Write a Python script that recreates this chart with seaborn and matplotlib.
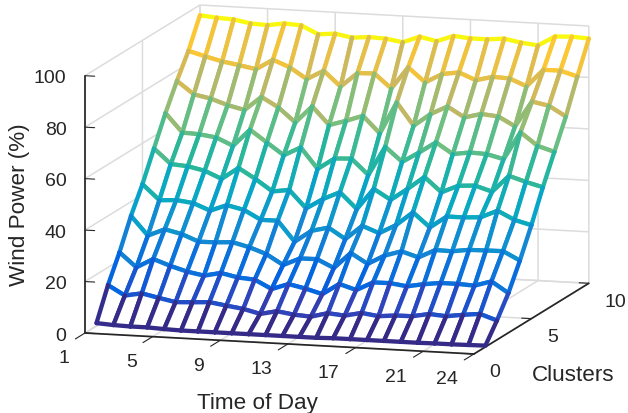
import numpy as np
import matplotlib
matplotlib.use("Agg")
import matplotlib.pyplot as plt
import seaborn as sns
from matplotlib.colors import LinearSegmentedColormap, Normalize
from matplotlib.transforms import Affine2D
from mpl_toolkits.mplot3d import proj3d
from mpl_toolkits.mplot3d.art3d import Line3DCollection, Poly3DCollection

# ---------- data ----------
hours = list(range(1, 25))
clusters = list(range(1, 11))
x_ticks = [1, 5, 9, 13, 17, 21, 24]
y_ticks = [0, 5, 10]
z_ticks = [0, 20, 40, 60, 80, 100]

cluster_1 = [1.1, .7, .5, .5, .2, 0, 0, 0, 0, 0, 0, 0, 0, 0, .2, .2, .2, .2, .2, .2, .3, .3, .4, .5]
cluster_2 = [13.1, 9.4, 10.6, 9.2, 7.9, 8.2, 8.6, 7.6, 6.7, 5.1, 6.5, 5.5, 5.1, 6.8, 6.2, 7.6, 6.7, 7.3, 7.4, 8.6, 8.1, 9.0, 9.7, 7.5]
cluster_3 = [23.1, 17.6, 21.2, 18.9, 17.0, 15.8, 17.2, 15.8, 15.3, 12.0, 14.3, 12.9, 11.1, 15.4, 13.4, 16.7, 16.8, 15.9, 17.1, 17.9, 17.9, 17.6, 19.6, 15.4]
cluster_4 = [34.5, 27.2, 30.0, 28.5, 25.9, 26.0, 26.4, 24.8, 22.5, 18.6, 21.5, 21.6, 18.5, 24.7, 20.8, 24.4, 26.4, 24.4, 27.6, 27.5, 28.4, 28.5, 28.6, 25.3]
cluster_5 = [44.1, 38.2, 38.6, 37.8, 35.2, 37.7, 36.2, 32.7, 32.7, 24.9, 29.5, 31.1, 27.0, 32.5, 30.0, 33.5, 38.8, 33.3, 37.9, 37.9, 38.3, 41.2, 38.0, 36.3]
cluster_6 = [55.2, 49.5, 49.0, 47.6, 44.8, 49.4, 45.5, 41.0, 41.9, 35.1, 39.1, 42.1, 35.9, 44.1, 40.2, 44.8, 49.8, 44.2, 47.1, 47.5, 45.5, 52.0, 50.0, 48.3]
cluster_7 = [66.2, 59.0, 58.7, 57.8, 54.9, 61.5, 56.9, 52.3, 55.7, 47.7, 52.1, 52.4, 46.4, 57.7, 52.2, 56.2, 60.5, 56.3, 57.3, 57.0, 55.4, 66.2, 61.3, 59.3]
cluster_8 = [76.0, 71.1, 69.8, 67.6, 66.1, 71.5, 67.8, 62.3, 68.9, 62.0, 64.0, 66.3, 59.8, 72.2, 63.5, 68.4, 71.7, 67.8, 69.5, 68.9, 65.4, 75.4, 74.1, 70.3]
cluster_9 = [84.9, 83.1, 81.5, 80.4, 79.2, 83.2, 80.6, 76.4, 80.0, 74.2, 79.8, 80.0, 74.5, 83.1, 77.6, 81.2, 82.2, 79.5, 81.2, 80.9, 78.2, 85.0, 85.0, 83.1]
cluster_10 = [96.0, 95.4, 95.1, 93.9, 93.6, 94.6, 94.2, 91.1, 91.7, 90.5, 91.1, 90.8, 89.8, 92.3, 90.9, 93.3, 92.7, 92.7, 93.3, 92.1, 91.4, 95.2, 95.5, 95.1]

wind = np.array([cluster_1, cluster_2, cluster_3, cluster_4, cluster_5,
                 cluster_6, cluster_7, cluster_8, cluster_9, cluster_10])

# ---------- style ----------
INK = "#262626"
sns.set_theme(style="white", rc={"font.family": ["Liberation Sans", "DejaVu Sans"],
                                 "text.color": INK, "axes.labelcolor": INK,
                                 "xtick.color": INK, "ytick.color": INK})
parula = LinearSegmentedColormap.from_list("parula", [
    (0 / 63, (.2081, .1663, .5292)), (4 / 63, (.1959, .2645, .7279)),
    (8 / 63, (.0117, .3875, .8820)), (16 / 63, (.0793, .5200, .8312)),
    (24 / 63, (.0239, .6536, .7793)), (32 / 63, (.1540, .7142, .6101)),
    (40 / 63, (.4420, .7481, .5033)), (48 / 63, (.7802, .7154, .3864)),
    (56 / 63, (.9892, .7800, .2000)), (58.5 / 63, (.9700, .9500, .0700)),
    (63 / 63, (.9763, .9831, .0538))])
norm = Normalize(wind.min(), wind.max())

FS_TICK = 14.0
FS_LABEL = 16.2
W, H = 628, 414
fig = plt.figure(figsize=(W / 100, H / 100), dpi=100)
ax = fig.add_subplot(projection="3d", computed_zorder=False)
ax.set_proj_type("ortho")
ax.view_init(elev=10.5, azim=-73.5)
ax.set_box_aspect((403, 402, 260))

# ---------- mesh, drawn cell by cell from back to front (hidden lines) ----------
X, Y = np.meshgrid(hours, clusters)
order = 10
LW = 3.1
for i in range(len(clusters) - 2, -1, -1):
    for j in range(len(hours) - 1):
        P = lambda a, b: (X[a, b], Y[a, b], wind[a, b])
        quad = [P(i, j), P(i, j + 1), P(i + 1, j + 1), P(i + 1, j)]
        ax.add_collection3d(Poly3DCollection([quad], facecolors="white", edgecolors="none",
                                             zorder=order), autolim=False)
        segs = [[P(i, j), P(i, j + 1)], [P(i + 1, j), P(i + 1, j + 1)],
                [P(i, j), P(i + 1, j)], [P(i, j + 1), P(i + 1, j + 1)]]
        vals = [wind[i, j], wind[i + 1, j], wind[i, j], wind[i, j + 1]]
        ax.add_collection3d(Line3DCollection(segs, colors=parula(norm(vals)), linewidths=LW,
                                             capstyle="round", zorder=order + 1), autolim=False)
        order += 2

ax.set_xlim(1, 24, view_margin=0)
ax.set_ylim(0, 10, view_margin=0)
ax.set_zlim(0, 100, view_margin=0)

# ---------- axes ----------
ax.set_xticks(x_ticks)
ax.set_yticks(y_ticks)
ax.set_zticks(z_ticks)
ax.zaxis.set_ticks_position("lower")
ax.zaxis.set_label_position("lower")
ax.zaxis._get_tickdir = lambda position: 0  # z ticks run along the x direction
for axis, factor, lw in ((ax.xaxis, -1.05, .8), (ax.yaxis, .31, .8), (ax.zaxis, -.31, 1.4)):
    axis.set_pane_color((1, 1, 1, 0))
    axis.pane.set_edgecolor((1, 1, 1, 0))
    axis._axinfo["grid"].update(color="#dcdcdc", linewidth=1.1)
    axis._axinfo["axisline"]["color"] = INK
    axis._axinfo["axisline"]["linewidth"] = lw
    axis._axinfo["tick"].update(outward_factor=factor, inward_factor=0)
    axis._axinfo["tick"]["linewidth"] = {True: .8, False: .5}
ax.grid(True)
ax.tick_params(axis="both", labelsize=FS_TICK, pad=0)
ax.set_xlabel("Time of Day", fontsize=FS_LABEL, rotation=0)
ax.set_ylabel("Clusters", fontsize=FS_LABEL, rotation=0)
ax.set_zlabel("Wind Power (%)", fontsize=FS_LABEL, rotation=90)
ax.xaxis.set_rotate_label(False)
ax.yaxis.set_rotate_label(False)
ax.zaxis.set_rotate_label(False)


def nudge(text, dx, dy):
    """Shift a text by pixels on screen (dy downwards); mplot3d resets set_transform."""
    shifted = ax.transData + Affine2D().translate(dx, -dy)
    text.get_transform = lambda: shifted


fig.canvas.draw()
for t in ax.xaxis.get_major_ticks():
    t.label1.set_ha("right")
    nudge(t.label1, -12, 5)
for t in ax.yaxis.get_major_ticks():
    t.label1.set_ha("left")
    nudge(t.label1, 2, -0.5)
for t in ax.zaxis.get_major_ticks():
    t.label1.set_ha("right")
    t.label1.set_va("center")
    nudge(t.label1, -1, 0.5)
nudge(ax.xaxis.label, -9.5, 23)
nudge(ax.yaxis.label, -0.5, 26)
nudge(ax.zaxis.label, -11, -6.5)

# ---------- place the box: corner (1,0,0) at pixel (85,334), 257 px tall ----------
S0 = 300.0
ax.set_position([.1, .1, S0 / W, S0 / H])
ax.apply_aspect()


def project(p):
    x, y, _ = proj3d.proj_transform(*p, ax.get_proj())
    return ax.transData.transform((x, y))


p0, p1 = project((1, 0, 0)), project((1, 0, 100))
k = 257.3 / np.hypot(*(p1 - p0))
c0 = np.array([.1 * W + S0 / 2, .1 * H + S0 / 2])
c = np.array([85.0, H - 334.0]) - (p0 - c0) * k
S = S0 * k
ax.set_position([(c[0] - S / 2) / W, (c[1] - S / 2) / H, S / W, S / H])

fig.savefig("out.png", dpi=100)
